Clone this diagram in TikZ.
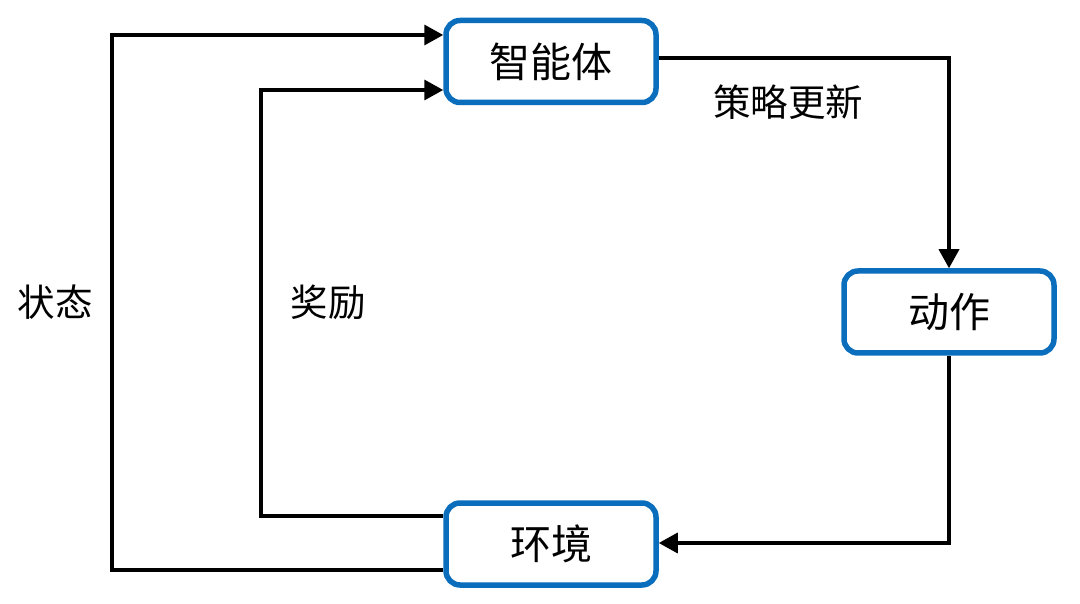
\documentclass[tikz,border=0pt]{standalone}
\usepackage{fontspec}
\setmainfont{Noto Sans CJK SC}
\usetikzlibrary{arrows.meta}
\begin{document}
\begin{tikzpicture}[x=1pt,y=-1pt,
  box/.style={draw=boxblue,line width=5.5pt,rounded corners=14pt,fill=white,minimum width=210pt,minimum height=82pt,font=\fontsize{41}{43}\selectfont},
  conn/.style={draw=black,line width=3.5pt},
  arr/.style={conn,-{Triangle[length=19pt,width=20pt]}},
  lbl/.style={font=\fontsize{37.5}{40}\selectfont}]
\definecolor{boxblue}{HTML}{0A6EBD}
\useasboundingbox (0,0) rectangle (1080,604);
\node[box] (agent) at (551,61.5) {智能体};
\node[box] (act) at (949,312) {动作};
\node[box] (env) at (551,544) {环境};
\coordinate (s1) at (112,570);
\coordinate (s2) at (112,35);
\coordinate (r1) at (261,516);
\coordinate (r2) at (261,90);
\draw[arr] (env.west |- 0,570) -- (s1) -- (s2) -- (agent.west |- 0,35);
\draw[arr] (env.west |- 0,516) -- (r1) -- (r2) -- (agent.west |- 0,90);
\draw[arr] (agent.east |- 0,58) -| (act.north);
\draw[arr] (act.south) |- (env.east |- 0,543);
\node[lbl] (state) at (55,302) {状态};
\node[lbl] (reward) at (328,302) {奖励};
\node[lbl] (upd) at (788,102) {策略更新};
\end{tikzpicture}
\end{document}
